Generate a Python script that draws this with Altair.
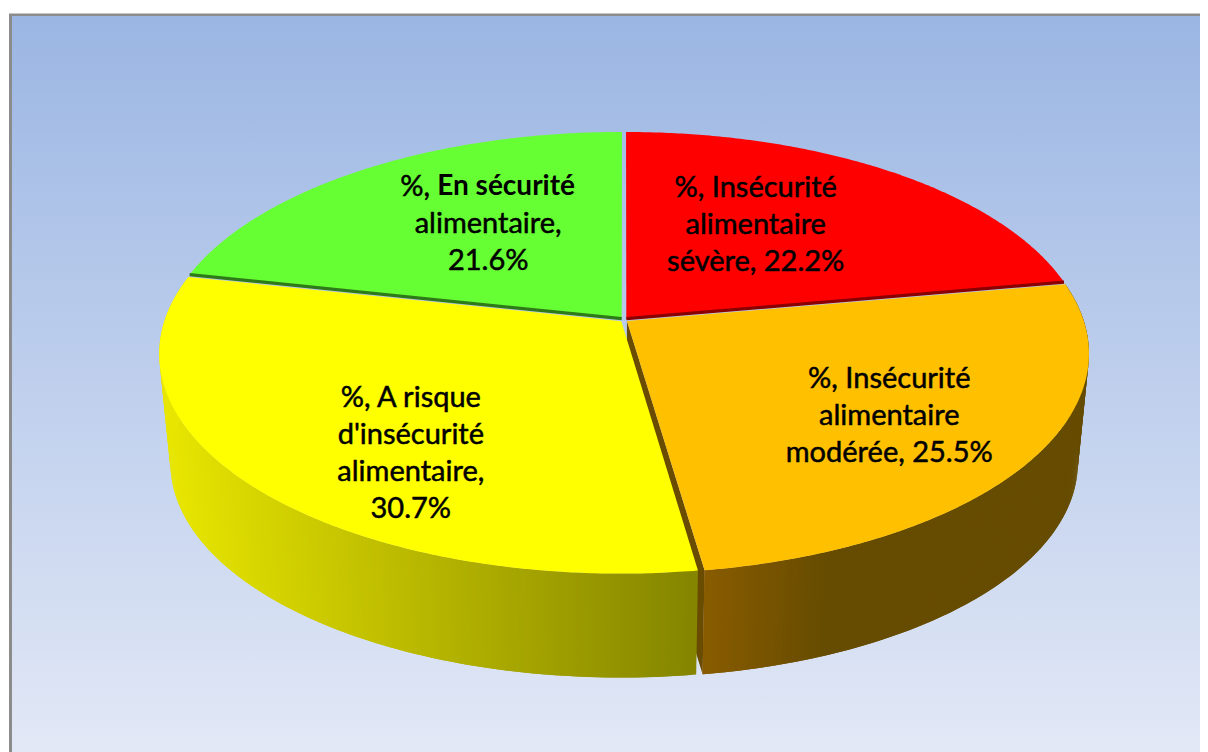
import math
import altair as alt
import pandas as pd

# ---- chart values ----
CATEGORIES = ["%, Insécurité alimentaire sévère",
              "%, Insécurité alimentaire modérée",
              "%, A risque d'insécurité alimentaire",
              "%, En sécurité alimentaire"]
VALUES = [22.2, 25.5, 30.7, 21.6]
LABELS = ["%, Insécurité\nalimentaire\nsévère, 22.2%",
          "%, Insécurité\nalimentaire\nmodérée, 25.5%",
          "%, A risque\nd'insécurité\nalimentaire,\n30.7%",
          " \nalimentaire,\n21.6%"]
GREEN_PREFIX = "%,"
GREEN_BOLD = "En sécurité"
TOP_COLORS = ["#FF0000", "#FFC000", "#FFFF00", "#66FF33"]
SEAM_COLORS = ["#8A0000", None, None, "#2F7A18"]
CUT_COLOR = "#6A4C00"
LABEL_NUDGE = [(-33, -3), (31, 16), (0, 40), (25, -2)]

# ---- style / pie geometry (perspective disc) ----
W, H = 1192, 744
MARGIN = 8
LINE_H = 37
CX, CY = 624, 320
A, B, K = 456.5, 214.7, 0.148
EXPLODE = 0.008
BOTTOM_CY, BOTTOM_S = 430, 0.976
WALL_SHADES = {1: ((703, (0x8A, 0x5C, 0x00)), (830, (0x66, 0x4C, 0x00))),
               2: ((165, (0xE8, 0xE6, 0x00)), (695, (0x85, 0x85, 0x00)))}


def project(u, v, offs=(0, 0), bottom=False):
    u, v = u + offs[0], v + offs[1]
    w = 1 + K * v
    s = BOTTOM_S if bottom else 1
    cy = BOTTOM_CY if bottom else CY
    return [CX + s * A * u / w - MARGIN, cy - s * B * v / w - MARGIN]


def pol(deg, r=1.0):
    t = math.radians(deg)
    return r * math.sin(t), r * math.cos(t)


def feat(ring, color, order):
    return {"type": "Feature", "properties": {"c": color, "o": order},
            "geometry": {"type": "Polygon", "coordinates": [ring + [ring[0]]]}}


def shade(i, x):
    (x0, c0), (x1, c1) = WALL_SHADES[i]
    f = min(1, max(0, (x + MARGIN - x0) / (x1 - x0)))
    return "#%02X%02X%02X" % tuple(round(a + (b - a) * f) for a, b in zip(c0, c1))


total = sum(VALUES)
starts, cum = [], 0.0
for val in VALUES:
    starts.append(cum / total * 360)
    cum += val
ends = starts[1:] + [360.0]

tops, walls, seams, label_rows = [], [], [], []
for i, val in enumerate(VALUES):
    a0, a1 = starts[i], ends[i]
    mid = (a0 + a1) / 2
    off = pol(mid, EXPLODE)
    n = int((a1 - a0) * 2)
    arc = [a0 + (a1 - a0) * j / n for j in range(n + 1)]
    tops.append(feat([project(0, 0, off)] + [project(*pol(t), off) for t in arc],
                     TOP_COLORS[i], i))
    if i in WALL_SHADES:
        if i == 1:  # cut face visible between the two front slices
            walls.append(feat([project(0, 0, off), project(*pol(a1), off),
                               project(*pol(a1), off, True), project(0, 0, off, True)],
                              CUT_COLOR, 0))
        for j in range(n):
            # every strip overlaps the next one, so no hairlines show between them
            p0, p1 = pol(arc[j]), pol(arc[min(j + 2, n)])
            q = [project(*p0, off), project(*p1, off),
                 project(*p1, off, True), project(*p0, off, True)]
            walls.append(feat(q, shade(i, q[0][0]), 1))
    if SEAM_COLORS[i]:
        edge = a1 if i == 0 else a0
        e1 = project(*pol(edge), off)
        e0 = project(0, 0, off)
        seams.append({"type": "Feature", "properties": {"c": SEAM_COLORS[i]},
                      "geometry": {"type": "LineString", "coordinates": [e0, e1]}})
    ax, ay = project(*pol(mid, 0.6))
    n_lines = LABELS[i].count("\n") + 1
    label_rows.append({"x": ax + LABEL_NUDGE[i][0],
                       "y": ay + LABEL_NUDGE[i][1] - (n_lines - 1) * LINE_H / 2,
                       "t": LABELS[i], "cat": CATEGORIES[i]})

one = pd.DataFrame({"a": [0]})
GRAD = alt.Gradient(gradient="linear", x1=0, x2=0, y1=0, y2=1,
                    stops=[alt.GradientStop(offset=0, color="#9BB6E3"),
                           alt.GradientStop(offset=1, color="#E2E8F6")])

frame = alt.Chart(one).mark_rect(fill="#8C8C8C").encode(
    x=alt.value(1), x2=alt.value(W), y=alt.value(5.5), y2=alt.value(H))
panel = alt.Chart(one).mark_rect(fill=GRAD).encode(
    x=alt.value(4), x2=alt.value(W), y=alt.value(8), y2=alt.value(H))

wall_layer = alt.Chart(alt.Data(values=walls)).mark_geoshape(strokeWidth=0).encode(
    fill=alt.Fill("properties.c:N", scale=None, legend=None))
top_layer = alt.Chart(alt.Data(values=tops)).mark_geoshape(strokeWidth=0).encode(
    fill=alt.Fill("properties.c:N", scale=None, legend=None))
seam_layer = alt.Chart(alt.Data(values=seams)).mark_geoshape(filled=False, strokeWidth=3.2).encode(
    stroke=alt.Stroke("properties.c:N", scale=None, legend=None))

X_ENC = alt.X("x:Q", scale=None, axis=None)
Y_ENC = alt.Y("y:Q", scale=None, axis=None)
text_layer = alt.Chart(pd.DataFrame(label_rows)).mark_text(
    font="Lato", fontSize=29, lineHeight=LINE_H, lineBreak="\n", align="center",
    baseline="middle", color="#000000", stroke="#000000", strokeWidth=0.5).encode(
    x=X_ENC, y=Y_ENC, text="t:N")

# first line of the green label: the name is bold, the prefix is not
green = label_rows[3]
split_x = green["x"] - 58
prefix_layer = alt.Chart(pd.DataFrame([{"x": split_x, "y": green["y"], "t": GREEN_PREFIX}])).mark_text(
    font="Lato", fontSize=29, align="right", baseline="middle", color="#000000",
    stroke="#000000", strokeWidth=0.5).encode(x=X_ENC, y=Y_ENC, text="t:N")
bold_layer = alt.Chart(pd.DataFrame([{"x": split_x + 7, "y": green["y"], "t": GREEN_BOLD}])).mark_text(
    font="Lato", fontSize=28, fontWeight="bold", align="left", baseline="middle",
    color="#000000").encode(x=X_ENC, y=Y_ENC, text="t:N")

chart = alt.layer(frame, panel, wall_layer, top_layer, seam_layer,
                  text_layer, prefix_layer, bold_layer).project(
    type="identity", scale=1, translate=[0, 0]
).properties(width=W, height=H, padding=0, background="#FFFFFF").configure_view(stroke=None)

chart.save("out.html", embed_options={"renderer": "svg", "actions": False})
